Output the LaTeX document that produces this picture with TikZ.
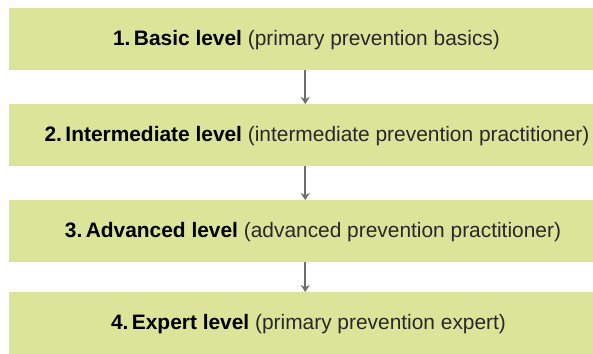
\documentclass[tikz,border=0pt]{standalone}
\usepackage{fontspec}
\setmainfont{Liberation Sans}
\usetikzlibrary{arrows.meta}
\definecolor{levelfill}{RGB}{219,228,153}
\definecolor{levelgray}{RGB}{40,40,40}
\definecolor{arrowgray}{RGB}{110,110,110}
\tikzset{
  levelbox/.style={fill=levelfill, minimum width=584pt, minimum height=62pt, inner sep=0pt, anchor=north west},
  leveltext/.style={font=\fontsize{20.9}{24}\selectfont, text=levelgray, inner sep=0pt},
  levelarrow/.style={draw=arrowgray, line width=1.8pt, -{Stealth[length=7pt,width=9pt]}}
}
\begin{document}
\begin{tikzpicture}[x=1pt, y=-1pt]
  \useasboundingbox (0,0) rectangle (593,353);
  % boxes
  \node[levelbox] (b1) at (9,8) {};
  \node[levelbox] (b2) at (9,104) {};
  \node[levelbox] (b3) at (9,200) {};
  \node[levelbox] (b4) at (9,292) {};
  % texts
  \node[leveltext] (t1) at (306.5,40) {\textbf{\color{black}1.\,Basic level} (primary prevention basics)};
  \node[leveltext] (t2) at (317,136) {\textbf{\color{black}2.\,Intermediate level} (intermediate prevention practitioner)};
  \node[leveltext] (t3) at (313,232) {\textbf{\color{black}3.\,Advanced level} (advanced prevention practitioner)};
  \node[leveltext] (t4) at (308.5,324) {\textbf{\color{black}4.\,Expert level} (primary prevention expert)};
  % arrows
  \draw[levelarrow] ([xshift=4pt]b1.south) -- ([xshift=4pt]b2.north);
  \draw[levelarrow] ([xshift=4pt]b2.south) -- ([xshift=4pt]b3.north);
  \draw[levelarrow] ([xshift=4pt]b3.south) -- ([xshift=4pt]b4.north);
\end{tikzpicture}
\end{document}
